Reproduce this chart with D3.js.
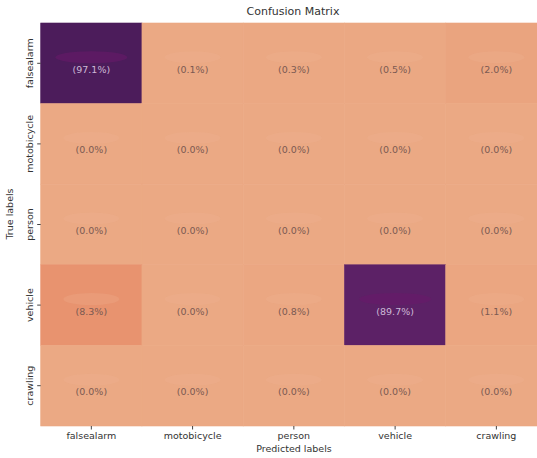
<!DOCTYPE html>
<html>
<head>
<meta charset="utf-8">
<script src="https://cdn.jsdelivr.net/npm/d3@7"></script>
<style>
  body { margin: 0; background: #fff; }
  svg { font-family: "DejaVu Sans", sans-serif; }
</style>
</head>
<body>
<div id="chart"></div>
<script>
// labels for both axes
const classes = ["falsealarm", "motobicycle", "person", "vehicle", "crawling"];
// row-normalised percentages (true x predicted)
const falsealarmRow = [97.1, 0.1, 0.3, 0.5, 2.0];
const motobicycleRow = [0.0, 0.0, 0.0, 0.0, 0.0];
const personRow = [0.0, 0.0, 0.0, 0.0, 0.0];
const vehicleRow = [8.3, 0.0, 0.8, 89.7, 1.1];
const crawlingRow = [0.0, 0.0, 0.0, 0.0, 0.0];
const matrix = [falsealarmRow, motobicycleRow, personRow, vehicleRow, crawlingRow];

const width = 537;
const height = 458;
const margin = { top: 23, left: 40.7 };
const plotW = 506.3;   // plot runs past the right edge, as in the picture
const plotH = 403;

const svg = d3.select("#chart")
    .append("svg")
    .attr("width", width)
    .attr("height", height);

const x = d3.scaleBand().domain(classes).range([margin.left, margin.left + plotW]);
const y = d3.scaleBand().domain(classes).range([margin.top, margin.top + plotH]);

// flare-like colour ramp
const color = d3.scaleLinear()
    .domain([0, 8, 30, 60, 90, 100])
    .range(["#eba984", "#e8946f", "#c9506a", "#8a2c72", "#5c2166", "#461a57"])
    .interpolate(d3.interpolateRgb);

const cells = [];
matrix.forEach((row, i) => row.forEach((v, j) => cells.push({ r: classes[i], c: classes[j], v })));

svg.selectAll("rect.cell")
    .data(cells)
    .enter()
    .append("rect")
    .attr("class", "cell")
    .attr("x", d => x(d.c))
    .attr("y", d => y(d.r))
    .attr("width", x.bandwidth())
    .attr("height", y.bandwidth())
    .attr("fill", d => color(d.v))
    .attr("stroke", d => color(d.v))
    .attr("stroke-width", 0.6);

// blurred count marks above each percentage
svg.selectAll("ellipse.smudge")
    .data(cells)
    .enter()
    .append("ellipse")
    .attr("class", "smudge")
    .attr("cx", d => x(d.c) + x.bandwidth() / 2)
    .attr("cy", d => y(d.r) + y.bandwidth() / 2 - 6)
    .attr("rx", d => d.v > 50 ? 36 : 28)
    .attr("ry", 6)
    .attr("fill", d => d.v > 50 ? "#6a1a6a" : "#f0b593")
    .attr("opacity", d => d.v > 50 ? 0.55 : 0.25);

svg.selectAll("text.val")
    .data(cells)
    .enter()
    .append("text")
    .attr("class", "val")
    .text(d => "(" + d.v.toFixed(1) + "%)")
    .attr("x", d => x(d.c) + x.bandwidth() / 2)
    .attr("y", d => y(d.r) + y.bandwidth() / 2 + 9.5)
    .attr("text-anchor", "middle")
    .attr("font-size", "9.5px")
    .attr("fill", d => d.v > 50 ? "#cdb8d6" : "#7b5a52");

// axes
const xAxis = svg.append("g")
    .attr("transform", `translate(0,${margin.top + plotH})`)
    .call(d3.axisBottom(x).tickSize(3.5).tickPadding(3));
const yAxis = svg.append("g")
    .attr("transform", `translate(${margin.left},0)`)
    .call(d3.axisLeft(y).tickSize(3.5).tickPadding(3));

[xAxis, yAxis].forEach(g => {
    g.select(".domain").remove();
    g.selectAll("line").attr("stroke", "#444");
    g.selectAll("text").attr("font-size", "9.5px").attr("fill", "#333")
        .attr("font-family", "DejaVu Sans, sans-serif");
});
yAxis.selectAll(".tick text")
    .attr("text-anchor", "middle")
    .attr("x", 0)
    .attr("dy", "0")
    .attr("y", -8)
    .attr("transform", "rotate(-90)");

svg.append("text")
    .text("Confusion Matrix")
    .attr("x", 293)
    .attr("y", 15)
    .attr("text-anchor", "middle")
    .attr("font-size", "11px")
    .attr("fill", "#333");

svg.append("text")
    .text("Predicted labels")
    .attr("x", 294)
    .attr("y", 452)
    .attr("text-anchor", "middle")
    .attr("font-size", "9.5px")
    .attr("fill", "#333");

svg.append("text")
    .text("True labels")
    .attr("transform", "translate(13,214) rotate(-90)")
    .attr("text-anchor", "middle")
    .attr("font-size", "9.5px")
    .attr("fill", "#333");
</script>
</body>
</html>
